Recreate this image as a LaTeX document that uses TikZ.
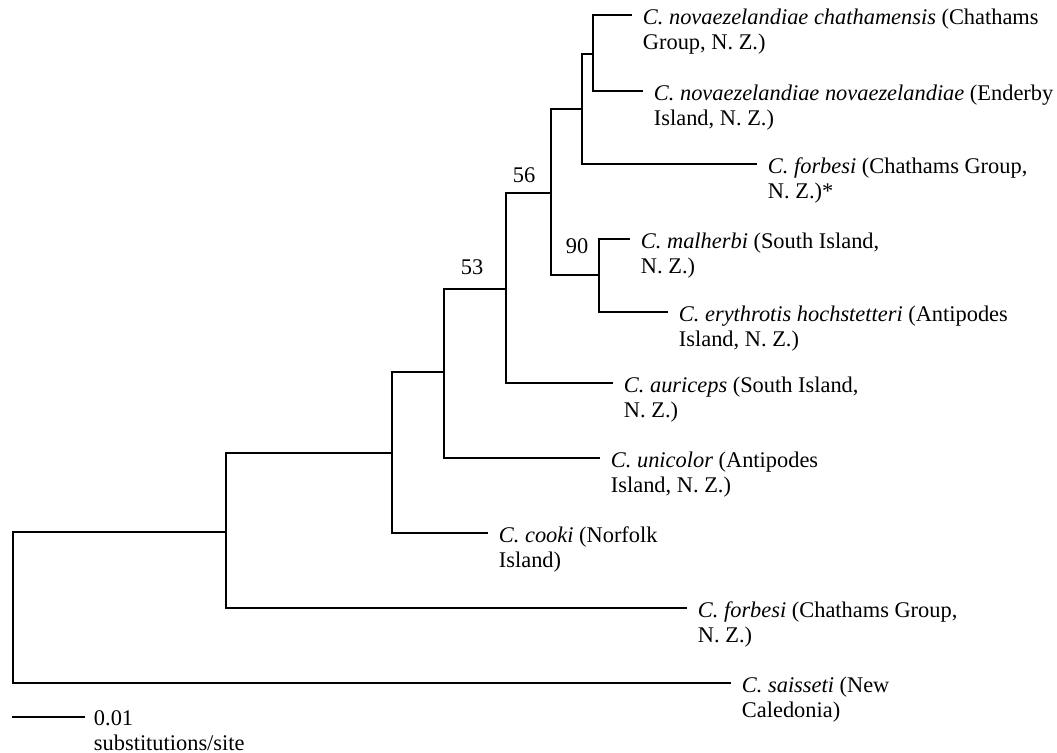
\documentclass[tikz,border=0pt]{standalone}
\usepackage{fontspec}
\setmainfont{Liberation Serif}
\begin{document}
\begin{tikzpicture}[x=0.5pt,y=-0.5pt,line width=0.95pt,
	taxon/.style={anchor=north west, align=left, inner sep=0pt, xshift=5pt, yshift=0.36em, font=\fontsize{11.2}{12.5}\selectfont},
	boot/.style={inner sep=0pt, font=\fontsize{11.2}{12.5}\selectfont}]
	\useasboundingbox (0,0) rectangle (1057,753);
	% internal nodes
	\coordinate (R)  at ( 13, 607);
	\coordinate (N1) at (226, 532);
	\coordinate (N2) at (392, 453);
	\coordinate (N3) at (444, 372);
	\coordinate (N4) at (506, 289);
	\coordinate (N5) at (551, 193);
	\coordinate (N6) at (582, 109);
	\coordinate (N7) at (593,  54);
	\coordinate (N8) at (599, 275);
	% branch tips
	\coordinate (chaE) at (632,  15);
	\coordinate (novE) at (643,  91);
	\coordinate (fstE) at (757, 164);
	\coordinate (malE) at (630, 239);
	\coordinate (eryE) at (668, 312);
	\coordinate (aurE) at (613, 383);
	\coordinate (uniE) at (600, 458);
	\coordinate (cooE) at (488, 533);
	\coordinate (forE) at (687, 608);
	\coordinate (saiE) at (731, 683);
	% branches
	\draw (R)  |- (N1);
	\draw (R)  |- (saiE);
	\draw (N1) |- (N2);
	\draw (N1) |- (forE);
	\draw (N2) |- (N3);
	\draw (N2) |- (cooE);
	\draw (N3) |- (N4);
	\draw (N3) |- (uniE);
	\draw (N4) |- (N5);
	\draw (N4) |- (aurE);
	\draw (N5) |- (N6);
	\draw (N5) |- (N8);
	\draw (N6) |- (N7);
	\draw (N6) |- (fstE);
	\draw (N7) |- (chaE);
	\draw (N7) |- (novE);
	\draw (N8) |- (malE);
	\draw (N8) |- (eryE);
	% taxa
	\node (cha) at (chaE) [taxon] {\textit{C. novaezelandiae chathamensis} (Chathams\\Group, N. Z.)};
	\node (nov) at (novE) [taxon] {\textit{C. novaezelandiae novaezelandiae} (Enderby\\Island, N. Z.)};
	\node (fst) at (fstE) [taxon] {\textit{C. forbesi} (Chathams Group,\\N. Z.)*};
	\node (mal) at (malE) [taxon] {\textit{C. malherbi} (South Island,\\N. Z.)};
	\node (ery) at (eryE) [taxon] {\textit{C. erythrotis hochstetteri} (Antipodes\\Island, N. Z.)};
	\node (aur) at (aurE) [taxon] {\textit{C. auriceps} (South Island,\\N. Z.)};
	\node (uni) at (uniE) [taxon] {\textit{C. unicolor} (Antipodes\\Island, N. Z.)};
	\node (coo) at (cooE) [taxon] {\textit{C. cooki} (Norfolk\\Island)};
	\node (for) at (forE) [taxon] {\textit{C. forbesi} (Chathams Group,\\N. Z.)};
	\node (sai) at (saiE) [taxon] {\textit{C. saisseti} (New\\Caledonia)};
	% bootstrap values
	\node (b53) at (472, 267) [boot] {53};
	\node (b56) at (524, 175) [boot] {56};
	\node (b90) at (577, 246) [boot] {90};
	% scale bar
	\coordinate (sb0) at (12, 717);
	\coordinate (sb1) at (85, 717);
	\draw (sb0) -- (sb1);
	\node (sbl) at (sb1) [taxon, xshift=-1pt] {0.01\\substitutions/site};
\end{tikzpicture}
\end{document}
